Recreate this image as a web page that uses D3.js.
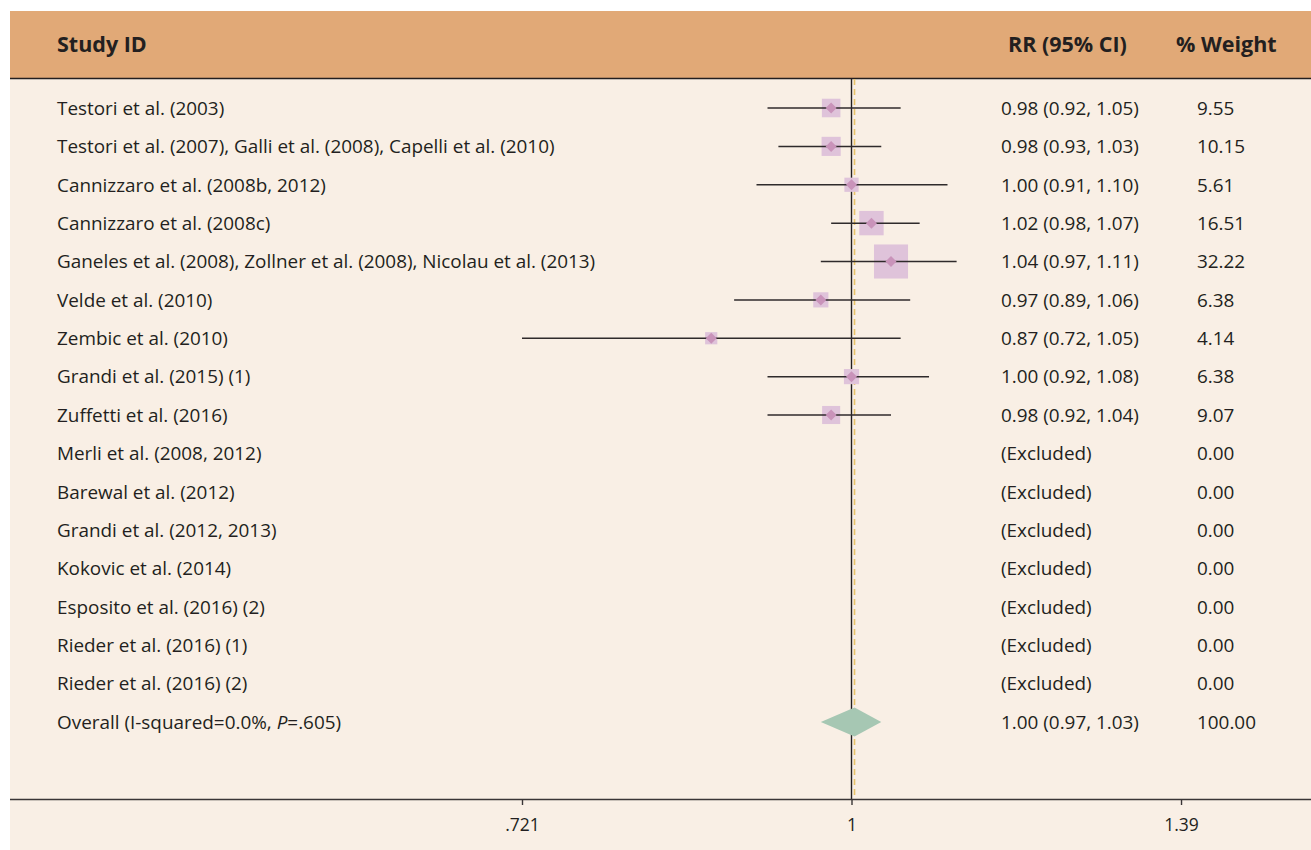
<!DOCTYPE html>
<html>
<head>
<meta charset="utf-8">
<script src="https://cdn.jsdelivr.net/npm/d3@7"></script>
<style>
  html, body { margin: 0; padding: 0; background: #ffffff; }
  svg { display: block; }
  text { font-family: "Open Sans", "Noto Sans", sans-serif; fill: #231f20; }
</style>
</head>
<body>
<svg id="chart" width="1311" height="850"></svg>
<script>
// Study rows of the forest plot
const studies = [
  "Testori et al. (2003)",
  "Testori et al. (2007), Galli et al. (2008), Capelli et al. (2010)",
  "Cannizzaro et al. (2008b, 2012)",
  "Cannizzaro et al. (2008c)",
  "Ganeles et al. (2008), Zollner et al. (2008), Nicolau et al. (2013)",
  "Velde et al. (2010)",
  "Zembic et al. (2010)",
  "Grandi et al. (2015) (1)",
  "Zuffetti et al. (2016)",
  "Merli et al. (2008, 2012)",
  "Barewal et al. (2012)",
  "Grandi et al. (2012, 2013)",
  "Kokovic et al. (2014)",
  "Esposito et al. (2016) (2)",
  "Rieder et al. (2016) (1)",
  "Rieder et al. (2016) (2)"
];
// Risk ratios with 95% CI (null = excluded)
const rr     = [0.98, 0.98, 1.00, 1.02, 1.04, 0.97, 0.87, 1.00, 0.98, null, null, null, null, null, null, null];
const ciLow  = [0.92, 0.93, 0.91, 0.98, 0.97, 0.89, 0.721, 0.92, 0.92, null, null, null, null, null, null, null];
const ciHigh = [1.05, 1.03, 1.10, 1.07, 1.11, 1.06, 1.05, 1.08, 1.04, null, null, null, null, null, null, null];
const weights = [9.55, 10.15, 5.61, 16.51, 32.22, 6.38, 4.14, 6.38, 9.07, 0, 0, 0, 0, 0, 0, 0];

// Pooled estimate
const overallLabel = "Overall (I-squared=0.0%, ";
const overallP = ".605";
const overallRR = 1.003;
const overallLow = 0.97;
const overallHigh = 1.03;
const overallWeight = 100;

// Axis ticks
const tickValues = [0.721, 1, 1.387];
const tickLabels = [".721", "1", "1.39"];

const headers = { study: "Study ID", rr: "RR (95% CI)", weight: "% Weight" };

const svg = d3.select("#chart");
const W = 1311, H = 850;

const x = d3.scaleLog().domain([0.721, 1 / 0.721]).range([522, 1181]);
const rowKeys = d3.range(studies.length + 1);
const y = d3.scalePoint().domain(rowKeys).range([108, 722]);
const boxSide = w => 6 * Math.sqrt(w);
const fmt = d3.format(".2f");

// Backgrounds
svg.append("rect").attr("x", 10).attr("y", 78).attr("width", W - 10).attr("height", H - 78).attr("fill", "#f9efe5");
svg.append("rect").attr("x", 10).attr("y", 11).attr("width", W - 10).attr("height", 67).attr("fill", "#e1a977");
svg.append("line").attr("x1", 10).attr("x2", W).attr("y1", 78.5).attr("y2", 78.5)
  .attr("stroke", "#231f20").attr("stroke-width", 1.6);

// Header texts
const hdr = svg.append("g").attr("font-weight", 700).attr("font-size", 21.5);
hdr.append("text").attr("x", 57).attr("y", 44).attr("dy", "0.36em").text(headers.study);
hdr.append("text").attr("x", 1008).attr("y", 44).attr("dy", "0.36em").text(headers.rr);
hdr.append("text").attr("x", 1176).attr("y", 44).attr("dy", "0.36em").text(headers.weight);

// Reference lines: null effect and pooled estimate
const plotTop = 79, plotBottom = 799;
svg.append("line").attr("x1", x(1)).attr("x2", x(1)).attr("y1", plotTop).attr("y2", plotBottom)
  .attr("stroke", "#231f20").attr("stroke-width", 1.4);
svg.append("line").attr("x1", x(overallRR)).attr("x2", x(overallRR)).attr("y1", plotTop).attr("y2", plotBottom)
  .attr("stroke", "#e8c36a").attr("stroke-width", 1.6).attr("stroke-dasharray", "6,4");

// Study marks
const rows = studies.map((s, i) => ({ s, i, rr: rr[i], lo: ciLow[i], hi: ciHigh[i], w: weights[i] }));
const marks = svg.append("g").selectAll("g").data(rows.filter(d => d.rr !== null)).join("g");
marks.append("rect")
  .attr("x", d => x(d.rr) - boxSide(d.w) / 2)
  .attr("y", d => y(d.i) - boxSide(d.w) / 2)
  .attr("width", d => boxSide(d.w))
  .attr("height", d => boxSide(d.w))
  .attr("fill", "#dfc3da");
marks.append("line")
  .attr("x1", d => x(d.lo)).attr("x2", d => x(d.hi))
  .attr("y1", d => y(d.i)).attr("y2", d => y(d.i))
  .attr("stroke", "#2f2a2b").attr("stroke-width", 1.5);
marks.append("path")
  .attr("d", d => {
    const cx = x(d.rr), cy = y(d.i), r = 5.5;
    return `M${cx - r},${cy}L${cx},${cy - r}L${cx + r},${cy}L${cx},${cy + r}Z`;
  })
  .attr("fill", "#c993ba");

// Pooled diamond
const oy = y(studies.length);
svg.append("path")
  .attr("d", `M${x(overallLow)},${oy}L${x(overallRR)},${oy - 14.5}L${x(overallHigh)},${oy}L${x(overallRR)},${oy + 14.5}Z`)
  .attr("fill", "#a6c7b3");

// Row texts
const txt = svg.append("g").attr("font-size", 18.9);
txt.selectAll("text.study").data(rows).join("text")
  .attr("class", "study").attr("x", 57).attr("y", d => y(d.i)).attr("dy", "0.36em").text(d => d.s);
txt.selectAll("text.rr").data(rows).join("text")
  .attr("class", "rr").attr("x", 1001).attr("y", d => y(d.i)).attr("dy", "0.36em")
  .text(d => d.rr === null ? "(Excluded)" : `${fmt(d.rr)} (${fmt(d.lo)}, ${fmt(d.hi)})`);
txt.selectAll("text.wt").data(rows).join("text")
  .attr("class", "wt").attr("x", 1197).attr("y", d => y(d.i)).attr("dy", "0.36em")
  .text(d => fmt(d.w));

const ot = txt.append("text").attr("x", 57).attr("y", oy).attr("dy", "0.36em");
ot.append("tspan").text(overallLabel);
ot.append("tspan").attr("font-style", "italic").text("P");
ot.append("tspan").text("=" + overallP + ")");
txt.append("text").attr("x", 1001).attr("y", oy).attr("dy", "0.36em")
  .text(`${fmt(overallRR)} (${fmt(overallLow)}, ${fmt(overallHigh)})`);
txt.append("text").attr("x", 1197).attr("y", oy).attr("dy", "0.36em").text(fmt(overallWeight));

// Bottom axis
const axis = d3.axisBottom(x).tickValues(tickValues).tickFormat((d, i) => tickLabels[i])
  .tickSize(6).tickSizeOuter(0).tickPadding(14);
const ag = svg.append("g").attr("transform", `translate(0,${plotBottom})`).call(axis);
ag.select(".domain").remove();
ag.append("line").attr("x1", 10).attr("x2", W).attr("y1", 0.5).attr("y2", 0.5)
  .attr("stroke", "#3a3536").attr("stroke-width", 1.5);
ag.selectAll(".tick line").attr("stroke", "#3a3536").attr("stroke-width", 1.4);
ag.selectAll(".tick text").attr("font-size", 17.5).attr("fill", "#231f20")
  .attr("font-family", "'Open Sans', 'Noto Sans', sans-serif");
</script>
</body>
</html>
